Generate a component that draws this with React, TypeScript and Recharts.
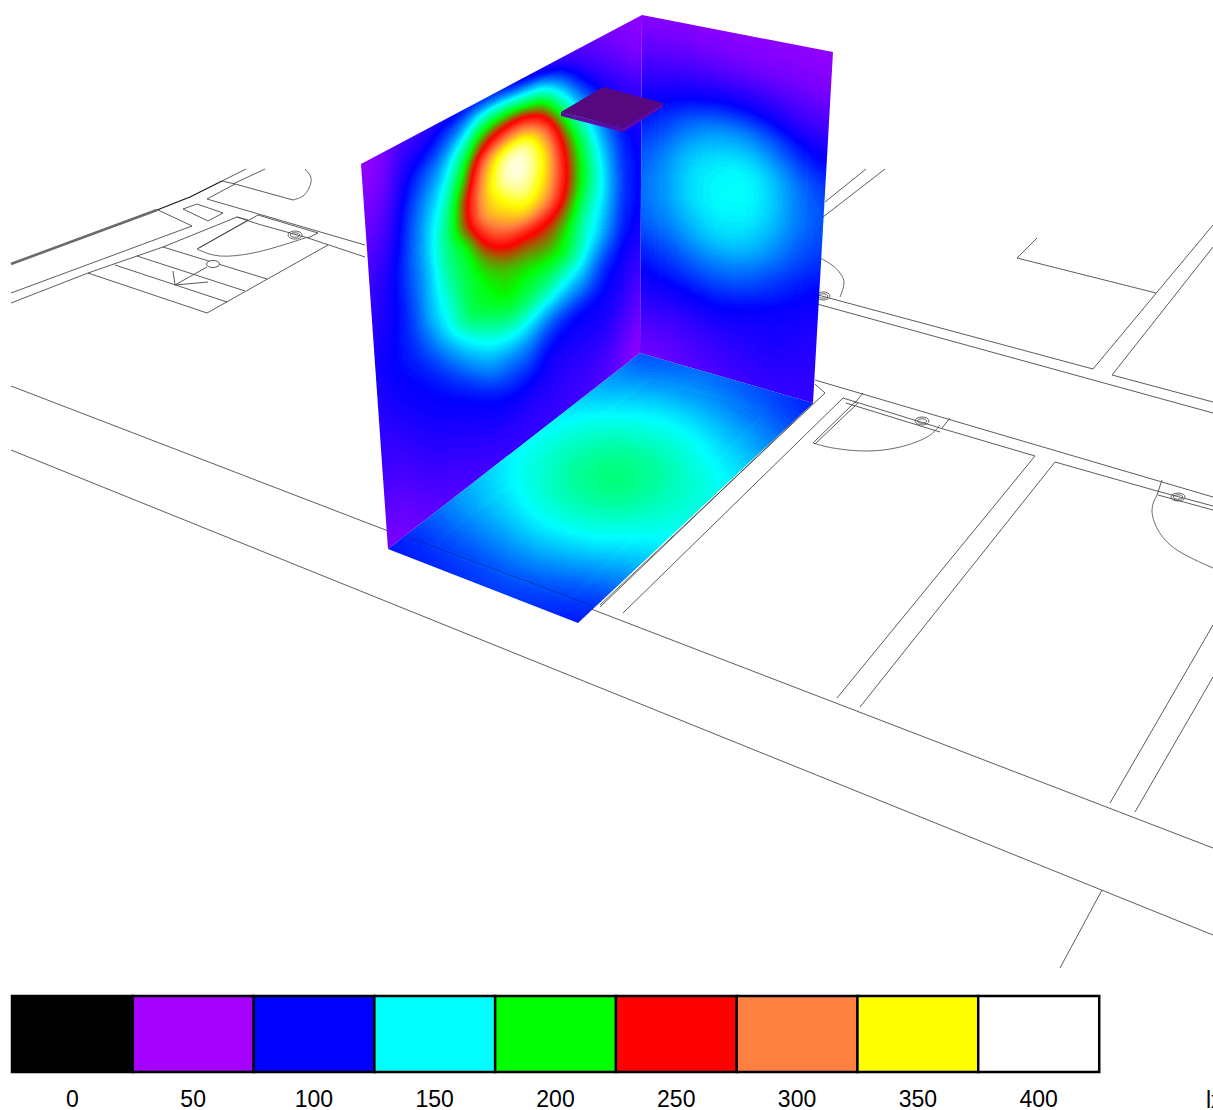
import { ScatterChart, Scatter, XAxis, YAxis, BarChart, Bar, Cell } from 'recharts';

const W = 1213;
const H = 1110;

// legend
const legendTicks = ['0', '50', '100', '150', '200', '250', '300', '350', '400'];
const legendColors = ['#000000', '#a600ff', '#0000ff', '#00ffff', '#00ff00', '#ff0000', '#ff8040', '#ffff00', '#ffffff'];

// lux, one inner list per column, top to bottom
const leftWallLux = [
  [55, 58, 62, 68, 75, 80, 85, 88, 92, 92, 90, 87, 84, 80, 74, 68, 64],
  [60, 65, 70, 78, 85, 92, 96, 98, 100, 100, 97, 92, 87, 82, 76, 70, 64],
  [78, 90, 99, 107, 112, 114, 115, 112, 110, 106, 102, 97, 92, 87, 81, 75, 69],
  [82, 100, 118, 128, 137, 140, 137, 138, 136, 124, 110, 102, 97, 92, 86, 80, 74],
  [92, 115, 135, 150, 165, 175, 175, 168, 158, 150, 130, 112, 100, 94, 88, 82, 76],
  [98, 135, 175, 205, 240, 240, 195, 190, 190, 185, 150, 130, 108, 98, 92, 86, 79],
  [100, 175, 240, 310, 330, 325, 270, 220, 200, 195, 170, 145, 125, 104, 96, 88, 80],
  [95, 185, 270, 385, 395, 350, 310, 250, 210, 205, 185, 150, 125, 110, 98, 90, 83],
  [88, 170, 280, 395, 430, 385, 340, 250, 215, 195, 180, 148, 125, 110, 96, 88, 84],
  [82, 160, 240, 320, 355, 345, 320, 250, 225, 195, 172, 135, 112, 98, 92, 88, 84],
  [78, 120, 165, 215, 250, 260, 255, 230, 205, 195, 155, 130, 104, 96, 90, 86, 82],
  [72, 90, 115, 145, 175, 190, 195, 180, 165, 160, 145, 125, 100, 96, 90, 85, 80],
  [66, 75, 90, 110, 125, 138, 148, 150, 145, 138, 120, 105, 100, 96, 90, 82, 75],
  [60, 66, 75, 88, 98, 105, 110, 112, 112, 108, 103, 98, 94, 88, 80, 72, 66],
  [56, 58, 62, 78, 85, 90, 94, 97, 98, 97, 94, 88, 80, 72, 66, 60, 54],
];

const backWallLux = [
  [58, 72, 90, 102, 115, 120, 118, 105, 92, 78, 65],
  [58, 72, 92, 112, 126, 130, 124, 110, 95, 78, 68],
  [58, 72, 96, 124, 142, 144, 134, 116, 97, 80, 72],
  [56, 70, 98, 132, 148, 150, 142, 120, 100, 84, 76],
  [56, 68, 98, 134, 152, 152, 144, 122, 100, 88, 80],
  [56, 66, 94, 128, 150, 150, 140, 118, 98, 90, 82],
  [56, 64, 86, 116, 136, 138, 128, 110, 96, 92, 84],
  [56, 62, 80, 104, 122, 124, 116, 104, 94, 90, 84],
  [56, 60, 76, 96, 110, 114, 108, 98, 90, 88, 84],
];

// one inner list per row, back edge to front edge
const floorLux = [
  [112, 115, 118, 120, 118, 115, 112, 108, 104],
  [125, 128, 130, 132, 130, 128, 124, 120, 115],
  [135, 140, 146, 148, 147, 145, 140, 135, 128],
  [143, 152, 158, 160, 161, 160, 155, 148, 142],
  [148, 158, 166, 172, 175, 172, 166, 158, 153],
  [147, 157, 167, 174, 180, 177, 170, 160, 155],
  [140, 150, 158, 165, 168, 167, 162, 155, 150],
  [133, 140, 145, 150, 153, 152, 150, 144, 140],
  [122, 126, 130, 134, 136, 136, 133, 130, 125],
  [110, 113, 116, 118, 120, 120, 118, 115, 110],
  [103, 105, 107, 108, 110, 110, 108, 106, 104],
];

// corners on the plan: top left, top right, bottom right, bottom left
const leftWallCorners = [[361, 164], [642, 15], [640, 353], [388, 549]];
const backWallCorners = [[642, 15], [833, 52], [813, 403], [640, 353]];
const floorCorners = [[640, 353], [813, 403], [578, 623], [388, 549]];
const luminaireTop = [[561, 112], [603, 87], [663, 103], [623, 128]];
const luminaireSide = [[561, 112], [561, 116], [623, 132], [663, 107], [663, 103], [623, 128]];

// floor plan polylines
const planLines = [
  [[222, 181], [246, 169]],
  [[233, 184], [265, 169]],
  [[222, 181], [235, 184], [293, 200]],
  [[207, 199], [235, 184]],
  [[207, 199], [365, 245]],
  [[158, 210], [192, 226], [11, 293]],
  [[11, 303], [88, 273], [137, 256], [163, 247], [237, 217], [258, 224], [308, 238], [365, 257]],
  [[237, 217], [248, 220]],
  [[258, 215], [318, 233], [308, 238]],
  [[197, 249], [248, 220]],
  [[199, 248], [258, 215]],
  [[163, 247], [267, 279]],
  [[137, 256], [245, 291]],
  [[115, 265], [227, 302]],
  [[88, 273], [207, 313], [328, 245]],
  [[175, 285], [207, 267]],
  [[175, 285], [173, 271]],
  [[175, 285], [208, 282]],
  [[183, 209], [197, 204], [223, 213], [208, 221], [183, 209]],
  [[825, 202], [866, 169]],
  [[823, 217], [885, 169]],
  [[818, 295], [1093, 369], [1213, 225]],
  [[817, 304], [1213, 413]],
  [[1037, 238], [1017, 258], [1156, 293]],
  [[1213, 247], [1112, 375], [1213, 402]],
  [[815, 380], [1213, 497]],
  [[815, 384], [825, 393], [600, 605]],
  [[813, 403], [600, 607]],
  [[843, 398], [623, 613]],
  [[843, 398], [940, 428], [1035, 456], [837, 698]],
  [[846, 403], [940, 432]],
  [[855, 402], [813, 443]],
  [[858, 403], [815, 444]],
  [[863, 393], [855, 403]],
  [[950, 418], [942, 428]],
  [[860, 707], [1055, 462], [1157, 491], [1213, 506]],
  [[1158, 495], [1213, 510]],
  [[1162, 480], [1157, 495]],
  [[1213, 625], [1110, 803]],
  [[1213, 677], [1135, 812]],
  [[11, 386], [1213, 848]],
  [[11, 450], [1213, 935]],
  [[1102, 890], [1060, 968]],
];
const planArcs = [
  [[293, 200], [303, 196], [309, 188], [311, 178], [305, 169]],
  [[197, 249], [220, 256], [253, 253], [283, 245], [308, 237]],
  [[820, 258], [832, 265], [840, 273], [844, 283], [840, 297]],
  [[813, 443], [833, 448], [867, 451], [900, 447], [927, 437], [940, 425]],
  [[1157, 495], [1152, 510], [1158, 530], [1177, 550], [1213, 568]],
];
const planHeavyWall = [[11, 264], [157, 210]];
const planDarkWall = [[157, 210], [190, 197], [222, 181]];
const planHandles = [[295, 235], [823, 296], [922, 421], [1178, 497]];
const planPosts = [[213, 264]];
const floorMarks = [[408, 537], [593, 606]];
const floorDoor = [[732, 408], [768, 428], [793, 405]];

type Pt = number[];

const lerp = (a: Pt, b: Pt, t: number) => [a[0] + (b[0] - a[0]) * t, a[1] + (b[1] - a[1]) * t];
// bilinear spot on a four cornered surface
const spot = (c: Pt[], u: number, v: number) => lerp(lerp(c[0], c[1], u), lerp(c[3], c[2], u), v);

function surfaceCells(corners: Pt[], columns: number[][]) {
  const nu = columns.length - 1;
  const nv = columns[0].length - 1;
  const cells: any[] = [];
  columns.forEach((col, i) => {
    col.forEach((lux, j) => {
      const [x, y] = spot(corners, i / nu, j / nv);
      const poly = [[-0.5, -0.5], [0.5, -0.5], [0.5, 0.5], [-0.5, 0.5]].map(([a, b]) =>
        spot(corners, (i + a) / nu, (j + b) / nv),
      );
      cells.push({ x, y, lux, poly });
    });
  });
  return cells;
}

const floorColumns = floorLux[0].map((_, i) => floorLux.map(row => row[i]));
const leftCells = surfaceCells(leftWallCorners, leftWallLux);
const backCells = surfaceCells(backWallCorners, backWallLux);
const floorCells = surfaceCells(floorCorners, floorColumns);

const asPoints = (pts: Pt[]) => pts.map(([x, y]) => ({ x, y }));
const polyString = (pts: Pt[]) => pts.map(p => p.join(',')).join(' ');

const noDot = () => null;

// a cell is drawn grey, the filter turns the grey into the legend colours
function HeatCell(props: any) {
  const { cx, cy, payload } = props;
  const g = Math.round((Math.min(payload.lux, 400) / 400) * 255);
  const fill = `rgb(${g},${g},${g})`;
  const dx = cx - payload.x;
  const dy = cy - payload.y;
  const pts = payload.poly.map((p: Pt) => `${p[0] + dx},${p[1] + dy}`).join(' ');
  return <polygon points={pts} fill={fill} stroke={fill} strokeWidth={0.6} />;
}

function HandleMark(props: any) {
  const { cx, cy } = props;
  return (
    <g fill='none' stroke='#555' strokeWidth={0.9}>
      <ellipse cx={cx} cy={cy} rx={7} ry={4} />
      <ellipse cx={cx} cy={cy} rx={4.5} ry={2.2} />
    </g>
  );
}

function PostMark(props: any) {
  const { cx, cy } = props;
  return <ellipse cx={cx} cy={cy} rx={6.5} ry={3.5} fill='#fff' stroke='#444' strokeWidth={0.9} />;
}

function LuminaireShape(props: any) {
  const { cx, cy, payload } = props;
  const pts = payload.poly.map((p: Pt) => `${p[0] + cx - payload.x},${p[1] + cy - payload.y}`).join(' ');
  return <polygon points={pts} fill={payload.fill} />;
}

const channel = (idx: number) =>
  legendColors.map(c => (parseInt(c.slice(1 + idx * 2, 3 + idx * 2), 16) / 255).toFixed(3)).join(' ');

function heatFilter(id: string, blur: number) {
  return (
    <filter id={id} x='-10%' y='-10%' width='120%' height='120%' colorInterpolationFilters='sRGB'>
      <feGaussianBlur stdDeviation={blur} />
      <feComponentTransfer>
        <feFuncR type='table' tableValues={channel(0)} />
        <feFuncG type='table' tableValues={channel(1)} />
        <feFuncB type='table' tableValues={channel(2)} />
        <feFuncA type='linear' slope={50} intercept={0} />
      </feComponentTransfer>
    </filter>
  );
}

const legendData = legendTicks.map(name => ({ name, band: 1 }));

export default function App() {
  return (
    <div style={{ position: 'absolute', left: 0, top: 0, width: W, height: H, overflow: 'hidden', background: '#fff' }}>
      <style>{`
        .heat-left { filter: url(#heatLeft); clip-path: url(#clipLeft); }
        .heat-back { filter: url(#heatBack); clip-path: url(#clipBack); }
        .heat-floor { filter: url(#heatFloor); clip-path: url(#clipFloor); }
      `}</style>
      <div style={{ position: 'absolute', left: 0, top: 0 }}>
        <ScatterChart width={W} height={H} margin={{ top: 0, right: 0, bottom: 0, left: 0 }}>
          <defs>
            {heatFilter('heatLeft', 9)}
            {heatFilter('heatBack', 14)}
            {heatFilter('heatFloor', 14)}
            <clipPath id='clipLeft'><polygon points={polyString(leftWallCorners)} /></clipPath>
            <clipPath id='clipBack'><polygon points={polyString(backWallCorners)} /></clipPath>
            <clipPath id='clipFloor'><polygon points={polyString(floorCorners)} /></clipPath>
          </defs>
          <XAxis type='number' dataKey='x' domain={[0, W]} hide />
          <YAxis type='number' dataKey='y' domain={[0, H]} reversed hide />
          {planLines.map((pts, i) => (
            <Scatter
              key={`plan-${i}`}
              data={asPoints(pts)}
              line={{ stroke: '#4a4a4a', strokeWidth: 0.9 }}
              shape={noDot}
              isAnimationActive={false}
            />
          ))}
          {planArcs.map((pts, i) => (
            <Scatter
              key={`arc-${i}`}
              data={asPoints(pts)}
              line={{ stroke: '#5a5a5a', strokeWidth: 0.9 }}
              lineJointType='natural'
              shape={noDot}
              isAnimationActive={false}
            />
          ))}
          <Scatter
            data={asPoints(planHeavyWall)}
            line={{ stroke: '#6a6a6a', strokeWidth: 2.6 }}
            shape={noDot}
            isAnimationActive={false}
          />
          <Scatter
            data={asPoints(planDarkWall)}
            line={{ stroke: '#111', strokeWidth: 1.1 }}
            shape={noDot}
            isAnimationActive={false}
          />
          <Scatter data={asPoints(planHandles)} shape={HandleMark} isAnimationActive={false} />
          <Scatter data={asPoints(planPosts)} shape={PostMark} isAnimationActive={false} />
          <Scatter className='heat-left' data={leftCells} shape={HeatCell} isAnimationActive={false} />
          <Scatter className='heat-back' data={backCells} shape={HeatCell} isAnimationActive={false} />
          <Scatter className='heat-floor' data={floorCells} shape={HeatCell} isAnimationActive={false} />
          <Scatter
            data={asPoints(floorMarks)}
            line={{ stroke: '#00207a', strokeWidth: 0.8, strokeOpacity: 0.6 }}
            shape={noDot}
            isAnimationActive={false}
          />
          <Scatter
            data={asPoints(floorDoor)}
            line={{ stroke: '#00207a', strokeWidth: 0.7, strokeOpacity: 0.25, strokeDasharray: '4 3' }}
            shape={noDot}
            isAnimationActive={false}
          />
          <Scatter
            data={[{ x: luminaireTop[0][0], y: luminaireTop[0][1], poly: luminaireSide, fill: '#5e0aa4' }]}
            shape={LuminaireShape}
            isAnimationActive={false}
          />
          <Scatter
            data={[{ x: luminaireTop[0][0], y: luminaireTop[0][1], poly: luminaireTop, fill: '#57087f' }]}
            shape={LuminaireShape}
            isAnimationActive={false}
          />
        </ScatterChart>
      </div>
      <div style={{ position: 'absolute', left: 0, top: 985 }}>
        <BarChart
          width={W}
          height={125}
          data={legendData}
          barCategoryGap={0}
          margin={{ top: 11, right: 114, bottom: 0, left: 12 }}
        >
          <XAxis
            dataKey='name'
            height={38}
            axisLine={false}
            tickLine={false}
            interval={0}
            tick={{ fill: '#000', fontSize: 23, fontFamily: 'Liberation Sans' }}
            tickMargin={13}
          />
          <YAxis domain={[0, 1]} hide />
          <Bar dataKey='band' stroke='#000' strokeWidth={2.5} isAnimationActive={false}>
            {legendData.map((d, i) => (
              <Cell key={d.name} fill={legendColors[i]} />
            ))}
          </Bar>
          <text x={1206} y={123} fontSize={23} fontFamily='Liberation Sans' fill='#000'>lx</text>
        </BarChart>
      </div>
    </div>
  );
}
